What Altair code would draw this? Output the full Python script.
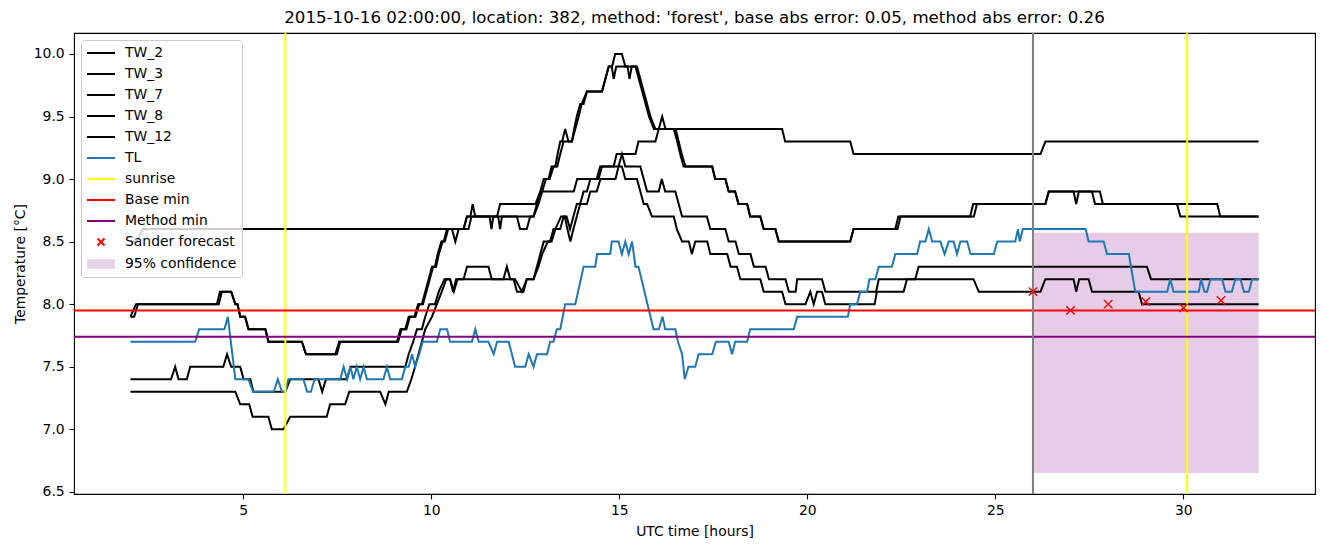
import altair as alt
import pandas as pd

TITLE = ("2015-10-16 02:00:00, location: 382, method: 'forest', "
         "base abs error: 0.05, method abs error: 0.26")

# ---------------- series (UTC hours, temperature) ----------------
tw2_t = [2.0, 2.15, 4.3, 4.38, 4.68, 4.79, 4.85, 4.92, 5.05, 5.14, 5.59, 5.67, 6.56, 6.67, 7.45, 7.55,
         9.09, 9.18, 9.31, 9.4, 9.55, 9.65, 9.75, 9.84, 9.93, 10.02, 10.1, 10.17, 10.27, 10.33, 10.42,
         10.55, 10.64, 10.73, 10.86, 10.95, 11.04, 11.1, 11.17, 12.72, 12.81, 12.9, 12.99, 13.12, 13.2,
         13.3, 13.36, 13.43, 13.48, 13.56, 13.65, 13.74, 13.8, 13.87, 13.96, 14.05, 14.14, 14.54, 14.63,
         14.72, 14.81, 14.89, 15.07, 15.16, 15.43, 15.52, 15.61, 15.7, 15.79, 15.92, 16.05, 16.14, 16.23,
         16.45, 16.54, 16.62, 16.71, 17.47, 17.55, 17.82, 17.91, 18.08, 18.17, 18.4, 18.48, 18.75, 18.84,
         19.15, 19.24, 21.14, 21.23, 22.34, 22.42, 24.33, 24.41, 26.33, 26.42, 27.08, 27.15, 27.22,
         27.57, 27.65, 29.83, 29.92, 32.0]
tw2_v = [7.9, 8.0, 8.0, 8.1, 8.1, 8.0, 8.0, 7.9, 7.9, 7.8, 7.8, 7.7, 7.7, 7.6, 7.6, 7.7,
         7.7, 7.8, 7.8, 7.9, 7.9, 8.0, 8.0, 8.1, 8.2, 8.3, 8.3, 8.4, 8.5, 8.5, 8.6,
         8.6, 8.5, 8.6, 8.6, 8.7, 8.7, 8.8, 8.7, 8.7, 8.8, 8.9, 9.0, 9.0, 9.1,
         9.1, 9.2, 9.3, 9.3, 9.4, 9.3, 9.3, 9.4, 9.5, 9.6, 9.6, 9.7, 9.7, 9.8,
         9.9, 9.9, 10.0, 10.0, 9.9, 9.9, 9.8, 9.7, 9.6, 9.5, 9.4, 9.4, 9.5, 9.4,
         9.4, 9.3, 9.2, 9.1, 9.1, 9.0, 9.0, 8.9, 8.9, 8.8, 8.8, 8.7, 8.7, 8.6,
         8.6, 8.5, 8.5, 8.6, 8.6, 8.7, 8.7, 8.8, 8.8, 8.9, 8.9, 8.8, 8.9,
         8.9, 8.8, 8.8, 8.7, 8.7]

tw3_t = [2.0, 2.1, 2.2, 4.35, 4.43, 4.68, 4.79, 4.85, 4.92, 5.05, 5.14, 5.59, 5.67, 6.56, 6.67, 7.49,
         7.58, 9.12, 9.21, 9.34, 9.43, 9.58, 9.68, 9.78, 9.87, 9.96, 10.05, 10.13, 10.2, 10.3, 10.36,
         10.45, 10.86, 10.95, 11.55, 11.6, 11.65, 11.78, 11.83, 11.88, 12.28, 12.36, 12.54, 12.63, 12.72,
         12.85, 12.95, 13.05, 13.15, 13.25, 13.35, 13.43, 13.52, 13.74, 13.83, 13.92, 14.0, 14.14, 14.54,
         14.63, 14.72, 14.8, 14.85, 14.92, 15.22, 15.27, 15.33, 15.47, 15.56, 15.65, 15.74, 15.83, 15.96,
         16.5, 16.58, 16.66, 16.76, 17.47, 17.55, 17.82, 17.91, 18.08, 18.17, 18.4, 18.48, 18.75, 18.84,
         19.15, 19.24, 21.14, 21.23, 22.4, 22.48, 24.43, 24.51, 26.33, 26.42, 27.78, 27.86, 30.9, 30.98,
         32.0]
tw3_v = [7.9, 7.9, 8.0, 8.0, 8.1, 8.1, 8.0, 8.0, 7.9, 7.9, 7.8, 7.8, 7.7, 7.7, 7.6, 7.6,
         7.7, 7.7, 7.8, 7.8, 7.9, 7.9, 8.0, 8.0, 8.1, 8.2, 8.3, 8.3, 8.4, 8.5, 8.5,
         8.6, 8.6, 8.7, 8.7, 8.6, 8.7, 8.7, 8.6, 8.7, 8.7, 8.6, 8.6, 8.7, 8.7,
         8.8, 8.9, 9.0, 9.0, 9.1, 9.1, 9.2, 9.3, 9.3, 9.4, 9.5, 9.6, 9.7, 9.7,
         9.8, 9.9, 9.9, 9.8, 9.9, 9.9, 9.8, 9.9, 9.9, 9.8, 9.7, 9.6, 9.5, 9.4,
         9.4, 9.3, 9.2, 9.1, 9.1, 9.0, 9.0, 8.9, 8.9, 8.8, 8.8, 8.7, 8.7, 8.6,
         8.6, 8.5, 8.5, 8.6, 8.6, 8.7, 8.7, 8.8, 8.8, 8.9, 8.9, 8.8, 8.8, 8.7,
         8.7]

tw7_t = [2.0, 2.17, 2.33, 10.99, 11.07, 11.75, 11.83, 12.77, 12.9, 13.79, 13.88, 14.45, 14.54, 14.85,
         14.93, 15.43, 15.51, 15.96, 16.05, 19.33, 19.41, 21.14, 21.23, 26.2, 26.33, 32.0]
tw7_v = [8.5, 8.5, 8.6, 8.6, 8.7, 8.7, 8.8, 8.8, 8.9, 8.9, 9.0, 9.0, 9.1, 9.1,
         9.2, 9.2, 9.3, 9.3, 9.4, 9.4, 9.3, 9.3, 9.2, 9.2, 9.3, 9.3]

tw8_t = [2.0, 3.08, 3.19, 3.28, 3.5, 3.59, 4.47, 4.57, 4.68, 4.92, 5.01, 5.19, 5.27, 6.12, 6.25, 7.0,
         7.1, 7.2, 7.76, 7.85, 9.31, 9.4, 9.52, 9.62, 9.75, 9.84, 9.95, 10.1, 10.2, 10.35, 10.5, 10.58,
         10.66, 10.86, 10.95, 11.52, 11.61, 11.92, 12.01, 12.1, 12.23, 12.41, 12.54, 12.72, 12.81, 12.9,
         12.99, 13.16, 13.25, 13.43, 13.52, 13.6, 13.69, 13.78, 13.87, 13.96, 14.05, 14.14, 14.23, 14.4,
         14.49, 14.98, 15.07, 15.16, 15.56, 15.65, 15.74, 16.05, 16.13, 16.22, 16.49, 16.58, 16.67, 17.33,
         17.42, 17.82, 17.91, 18.09, 18.18, 18.49, 18.58, 18.89, 18.98, 19.42, 19.51, 19.69, 19.73, 20.39,
         20.48, 21.83, 21.9, 24.42, 24.56, 26.2, 26.33, 27.08, 27.15, 27.23, 27.48, 27.57, 28.81, 28.9,
         32.0]
tw8_v = [7.4, 7.4, 7.5, 7.4, 7.4, 7.5, 7.5, 7.6, 7.5, 7.5, 7.4, 7.4, 7.3, 7.3, 7.4, 7.4,
         7.3, 7.4, 7.4, 7.5, 7.5, 7.6, 7.7, 7.8, 7.8, 7.9, 8.0, 8.0, 8.1, 8.2, 8.2, 8.1,
         8.2, 8.2, 8.3, 8.3, 8.2, 8.2, 8.3, 8.2, 8.2, 8.1, 8.2, 8.2, 8.3, 8.4,
         8.5, 8.5, 8.6, 8.6, 8.7, 8.7, 8.6, 8.7, 8.8, 8.8, 8.9, 8.9, 9.0, 9.0,
         9.1, 9.1, 9.2, 9.1, 9.1, 9.0, 8.9, 8.9, 9.0, 8.9, 8.9, 8.8, 8.7, 8.7,
         8.6, 8.6, 8.5, 8.5, 8.4, 8.4, 8.3, 8.3, 8.2, 8.2, 8.1, 8.1, 8.2, 8.2,
         8.1, 8.1, 8.2, 8.2, 8.1, 8.1, 8.2, 8.2, 8.1, 8.2, 8.2, 8.1, 8.1, 8.0,
         8.0]

tw12_t = [2.0, 4.79, 4.92, 5.16, 5.25, 5.67, 5.76, 6.07, 6.25, 7.22, 7.31, 7.71, 7.82, 8.64, 8.78, 8.87,
          9.35, 9.47, 9.57, 9.66, 9.75, 9.84, 10.02, 10.15, 10.28, 10.4, 10.5, 10.6, 10.7, 12.19, 12.28,
          12.45, 12.54, 12.72, 12.85, 12.95, 13.1, 13.2, 13.3, 13.45, 13.55, 13.62, 13.7, 13.78, 13.87,
          13.96, 14.14, 14.23, 14.4, 14.5, 14.9, 14.98, 15.07, 15.16, 15.47, 15.56, 15.65, 15.74, 15.87,
          16.45, 16.53, 16.67, 16.85, 16.93, 17.02, 17.34, 17.42, 17.87, 17.96, 18.13, 18.22, 18.75, 18.84,
          19.33, 19.42, 19.95, 20.08, 20.17, 20.26, 20.39, 20.48, 21.79, 21.85, 22.56, 22.65, 22.87, 22.96,
          29.03, 29.14, 32.0]
tw12_v = [7.3, 7.3, 7.2, 7.2, 7.1, 7.1, 7.0, 7.0, 7.1, 7.1, 7.2, 7.2, 7.3, 7.3, 7.2, 7.3,
          7.3, 7.4, 7.5, 7.6, 7.7, 7.8, 7.9, 8.0, 8.1, 8.2, 8.2, 8.1, 8.2, 8.2, 8.1,
          8.1, 8.2, 8.2, 8.3, 8.4, 8.5, 8.5, 8.6, 8.7, 8.7, 8.6, 8.5, 8.6, 8.7,
          8.8, 8.8, 8.9, 8.9, 9.0, 9.0, 9.1, 9.1, 9.0, 9.0, 8.9, 8.8, 8.8, 8.7,
          8.7, 8.6, 8.5, 8.5, 8.4, 8.5, 8.5, 8.4, 8.4, 8.3, 8.3, 8.2, 8.2, 8.1,
          8.1, 8.0, 8.0, 8.1, 8.0, 8.1, 8.1, 8.0, 8.0, 8.1, 8.1, 8.2, 8.2, 8.3,
          8.3, 8.2, 8.2]

tl_t = [2.0, 3.72, 3.83, 4.5, 4.59, 4.79, 5.14, 5.26, 5.81, 5.92, 6.03, 6.12, 6.2, 6.6, 6.7, 6.8, 6.9,
        7.58, 7.67, 7.76, 7.85, 7.93, 8.02, 8.11, 8.2, 8.29, 8.73, 8.82, 8.91, 9.22, 9.31, 9.4, 9.49,
        9.57, 9.68, 9.77, 10.15, 10.24, 10.42, 10.5, 11.08, 11.17, 11.26, 11.52, 11.66, 11.75, 12.06,
        12.23, 12.5, 12.59, 12.72, 12.81, 13.08, 13.16, 13.25, 13.34, 13.43, 13.56, 13.83, 14.05, 14.36,
        14.41, 14.76, 14.8, 14.98, 15.07, 15.16, 15.25, 15.34, 15.43, 15.51, 15.91, 16.05, 16.15, 16.22,
        16.49, 16.56, 16.67, 16.74, 16.84, 17.02, 17.11, 17.47, 17.57, 17.91, 18.0, 18.08, 18.4, 18.48,
        19.64, 19.73, 21.08, 21.14, 21.32, 21.41, 21.59, 21.65, 21.81, 21.9, 22.25, 22.34, 22.92, 23.0,
        23.14, 23.23, 23.32, 23.54, 23.65, 23.76, 23.89, 23.98, 24.07, 24.25, 24.34, 24.96, 25.05, 25.53,
        25.6, 25.65, 25.73, 27.4, 27.48, 27.88, 27.97, 28.55, 28.72, 29.57, 29.65, 29.74, 30.41, 30.47,
        30.56, 30.63, 30.72, 31.03, 31.12, 31.29, 31.38, 31.52, 31.61, 31.74, 31.83, 32.0]
tl_v = [7.7, 7.7, 7.8, 7.8, 7.9, 7.4, 7.4, 7.3, 7.3, 7.4, 7.3, 7.3, 7.4, 7.4, 7.3, 7.3, 7.4,
        7.4, 7.5, 7.4, 7.5, 7.4, 7.5, 7.4, 7.5, 7.4, 7.4, 7.5, 7.4, 7.4, 7.5, 7.5, 7.6,
        7.5, 7.6, 7.7, 7.7, 7.8, 7.8, 7.7, 7.7, 7.8, 7.7, 7.7, 7.6, 7.7, 7.7,
        7.5, 7.5, 7.6, 7.5, 7.6, 7.6, 7.7, 7.7, 7.8, 7.8, 8.0, 8.0, 8.3, 8.3,
        8.4, 8.4, 8.5, 8.5, 8.4, 8.5, 8.4, 8.5, 8.3, 8.3, 7.8, 7.8, 7.9, 7.8,
        7.8, 7.7, 7.6, 7.4, 7.5, 7.5, 7.6, 7.6, 7.7, 7.7, 7.6, 7.7, 7.7, 7.8,
        7.8, 7.9, 7.9, 8.0, 8.0, 8.1, 8.1, 8.2, 8.2, 8.3, 8.3, 8.4, 8.4, 8.5,
        8.5, 8.6, 8.5, 8.5, 8.4, 8.5, 8.5, 8.4, 8.5, 8.5, 8.4, 8.4, 8.5, 8.5,
        8.6, 8.5, 8.6, 8.6, 8.5, 8.5, 8.4, 8.4, 8.1, 8.1, 8.2, 8.1, 8.1, 8.2,
        8.1, 8.1, 8.2, 8.2, 8.1, 8.1, 8.2, 8.2, 8.1, 8.1, 8.2, 8.2]

sunrise_t = [6.12, 30.1]
issue_t = [26.0]
base_min = [7.95]
method_min = [7.74]
forecast_t = [26, 27, 28, 29, 30, 31]
forecast_v = [8.10, 7.95, 8.00, 8.02, 7.97, 8.03]
conf_t = [26.0, 32.0]
conf_lo = [6.65]
conf_hi = [8.57]

x_ticks = [5, 10, 15, 20, 25, 30]
y_ticks = [6.5, 7.0, 7.5, 8.0, 8.5, 9.0, 9.5, 10.0]

legend_labels = ["TW_2", "TW_3", "TW_7", "TW_8", "TW_12", "TL", "sunrise",
                 "Base min", "Method min", "Sander forecast", "95% confidence"]
legend_colors = ["#000000", "#000000", "#000000", "#000000", "#000000", "#1f77b4",
                 "#ffff00", "#ff0000", "#800080", "#ff0000", "#e6cce6"]

# legend symbol shapes (unit paths): line handle, x marker, filled patch
LPATH = "M-2,0L2,0"
XPATH = "M-0.5,-0.5L0.5,0.5M-0.5,0.5L0.5,-0.5"
RPATH = "M-2,-0.5L2,-0.5M-2,-0.17L2,-0.17M-2,0.17L2,0.17M-2,0.5L2,0.5"
legend_shapes = [LPATH] * 9 + [XPATH, RPATH]

# ---------------- frames ----------------
def long(name, ts, vs):
    return pd.DataFrame({"t": ts, "v": vs, "series": name})

tw_df = pd.concat([long("TW_2", tw2_t, tw2_v), long("TW_3", tw3_t, tw3_v),
                   long("TW_7", tw7_t, tw7_v), long("TW_8", tw8_t, tw8_v),
                   long("TW_12", tw12_t, tw12_v)], ignore_index=True)
tl_df = long("TL", tl_t, tl_v)

FONT = "DejaVu Sans"
FS = 13.9

xs = alt.Scale(domain=[0.5, 33.5], nice=False, zero=False)
ys = alt.Scale(domain=[6.4825, 10.1675], nice=False, zero=False)

x_axis = alt.Axis(values=x_ticks, format="d", title="UTC time [hours]", grid=False,
                  titlePadding=7)
y_axis = alt.Axis(values=y_ticks, format=".1f", title="Temperature [°C]", grid=False,
                  titlePadding=6)

leg = alt.Legend(title=None, orient="top-left", offset=7, padding=5,
                 fillColor="rgba(255,255,255,0.8)", strokeColor="#cccccc", cornerRadius=3,
                 labelFont=FONT, labelFontSize=FS, labelColor="black",
                 symbolSize=196, symbolOffset=7, labelOffset=16, rowPadding=6,
                 symbolStrokeWidth=2, symbolOpacity=1, symbolFillColor="transparent")

color = alt.Color("series:N", scale=alt.Scale(domain=legend_labels, range=legend_colors),
                  legend=leg)
shape = alt.Shape("series:N", scale=alt.Scale(domain=legend_labels, range=legend_shapes),
                  legend=leg)

band = alt.Chart(pd.DataFrame({"t0": [conf_t[0]], "t1": [conf_t[1]],
                               "lo": conf_lo, "hi": conf_hi})).mark_rect(
    color="#800080", opacity=0.2).encode(
    x=alt.X("t0:Q", scale=xs, axis=x_axis), x2="t1:Q",
    y=alt.Y("lo:Q", scale=ys, axis=y_axis), y2="hi:Q")

tw = alt.Chart(tw_df).mark_line(strokeWidth=2).encode(
    x=alt.X("t:Q", scale=xs, axis=x_axis), y=alt.Y("v:Q", scale=ys, axis=y_axis),
    color=color, detail="series:N")
tl = alt.Chart(tl_df).mark_line(strokeWidth=2).encode(
    x=alt.X("t:Q", scale=xs), y=alt.Y("v:Q", scale=ys), color=color)

sunrise = alt.Chart(pd.DataFrame({"t": sunrise_t})).mark_rule(
    color="#ffff00", strokeWidth=2).encode(x=alt.X("t:Q", scale=xs))
issue = alt.Chart(pd.DataFrame({"t": issue_t})).mark_rule(
    color="#808080", strokeWidth=2).encode(x=alt.X("t:Q", scale=xs))
bmin = alt.Chart(pd.DataFrame({"v": base_min})).mark_rule(
    color="#ff0000", strokeWidth=2).encode(y=alt.Y("v:Q", scale=ys))
mmin = alt.Chart(pd.DataFrame({"v": method_min})).mark_rule(
    color="#800080", strokeWidth=2).encode(y=alt.Y("v:Q", scale=ys))
fc = alt.Chart(pd.DataFrame({"t": forecast_t, "v": forecast_v})).mark_point(
    shape="M-1,-1L1,1M-1,1L1,-1", filled=False, stroke="#ff0000", strokeWidth=1.4,
    size=70, opacity=1).encode(x=alt.X("t:Q", scale=xs), y=alt.Y("v:Q", scale=ys))

# invisible carrier of the legend's symbol shapes (no position: nothing is drawn)
legend_layer = alt.Chart(pd.DataFrame({"series": legend_labels})).mark_point(
    filled=False, opacity=0).encode(color=color, shape=shape)

chart = alt.layer(band, tw, tl, sunrise, bmin, mmin, issue, fc, legend_layer).properties(
    width=1241, height=461,
    autosize=alt.AutoSizeParams(type="none"),
    padding={"left": 74, "top": 33, "right": 9, "bottom": 53},
    title=alt.TitleParams(TITLE, font=FONT, fontSize=16.67, fontWeight="normal",
                          color="black", anchor="middle", baseline="bottom",
                          offset=5, dy=16.5),
).configure_view(stroke="black", strokeWidth=1.1).configure_axis(
    domain=False, ticks=True, tickColor="black", tickWidth=1.1, tickSize=4.9,
    labelFont=FONT, labelFontSize=FS, labelColor="black", labelPadding=4.9,
    titleFont=FONT, titleFontSize=FS, titleFontWeight="normal", titleColor="black",
)

chart.save("out.html", embed_options={"renderer": "svg", "actions": False})
